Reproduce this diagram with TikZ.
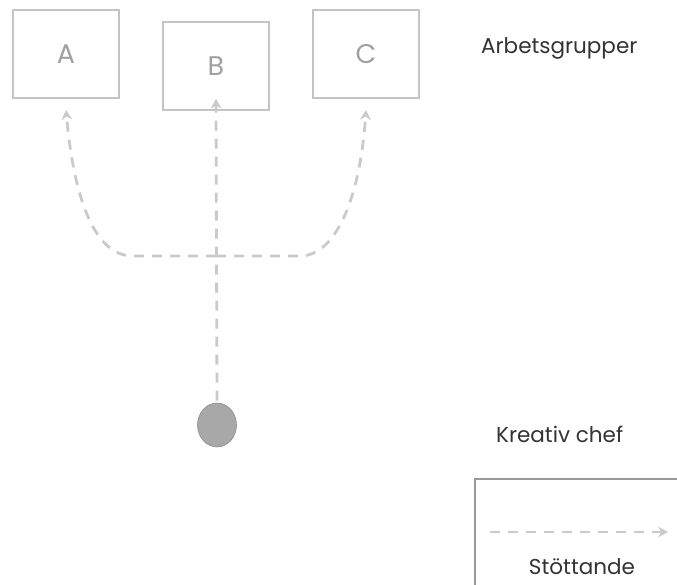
\documentclass[tikz,border=0pt]{standalone}
\usepackage{fontspec}
\setmainfont{Poppins}
\usetikzlibrary{arrows.meta,shapes.geometric}
\definecolor{boxgray}{HTML}{C4C4C4}
\definecolor{dashgray}{HTML}{CACACA}
\definecolor{lettergray}{HTML}{A0A0A0}
\definecolor{dotgray}{HTML}{A8A8A8}
\definecolor{txt}{HTML}{333333}
\tikzset{
  grp/.style={draw=boxgray, line width=1.5pt, minimum width=106pt, minimum height=88pt, inner sep=0pt, text=lettergray, font=\fontsize{27}{32}\selectfont},
  dashconn/.style={draw=dashgray, line width=2.8pt, dash pattern=on 10pt off 8pt, -{Stealth[length=10pt,width=11pt,inset=3.5pt]}},
  lbl/.style={text=txt, font=\fontsize{21.5}{26}\selectfont, inner sep=0pt},
}
\begin{document}
\begin{tikzpicture}[x=1pt,y=-1pt]
\useasboundingbox (0,0) rectangle (677,585);
\clip (0,0) rectangle (677,585);
\node[grp] (A) at (66,54) {A};
\node[grp] (B) at (216,66) {B};
\node[grp] (C) at (366,54) {C};
\node[ellipse, fill=dotgray, draw=dotgray!85!black, line width=0.6pt, minimum width=39pt, minimum height=44pt, inner sep=0pt] (K) at (217,425) {};
\coordinate (j) at (216,256);
\coordinate (jl) at (133,256);
\coordinate (jr) at (300,256);
\coordinate (ta) at (66,110);
\coordinate (tc) at (366,110);
\draw[dashconn, shorten <=2pt] (K.north) -- ([yshift=12pt]B.south);
\draw[dashconn] (j) -- (jl) .. controls (95,256) and (74,200) .. (ta);
\draw[dashconn] (j) -- (jr) .. controls (335,256) and (360,200) .. (tc);
\node[lbl, anchor=west] (ag) at (481,48) {Arbetsgrupper};
\node[lbl, anchor=west] (kc) at (496,434) {Kreativ chef};
\node[draw=gray!80, line width=1.5pt, minimum width=203pt, minimum height=140pt, anchor=north west, inner sep=0pt] (L) at (474,478) {};
\coordinate (l1) at (490,532);
\coordinate (l2) at (668,532);
\draw[dashconn, line width=2.4pt] (l1) -- (l2);
\node[lbl] (st) at (582,567) {Stöttande};
\end{tikzpicture}
\end{document}
